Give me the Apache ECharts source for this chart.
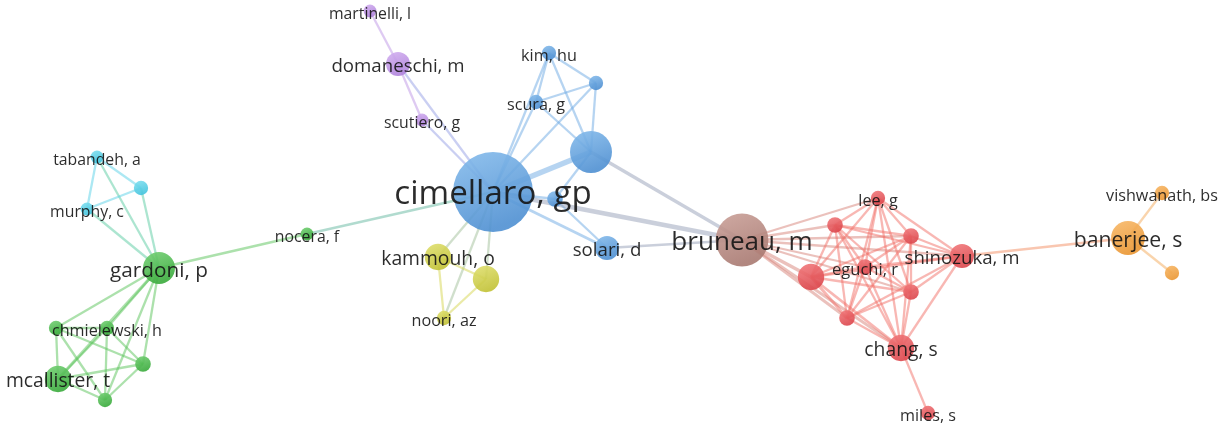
<!DOCTYPE html>
<html><head><meta charset="utf-8">
<script src="https://cdn.jsdelivr.net/npm/echarts@6/dist/echarts.min.js"></script>
<style>html,body{margin:0;padding:0;background:#fff}#c{width:1228px;height:429px}</style>
</head><body><div id="c"></div>
<script>
// Node data (map coordinates, weights, clusters)
const labels = ['cimellaro, gp','','kim, hu','','scura, g','','solari, d',
  'martinelli, l','domaneschi, m','scutiero, g',
  'kammouh, o','','noori, az',
  'tabandeh, a','','murphy, c',
  'gardoni, p','nocera, f','','chmielewski, h','','mcallister, t','',
  'bruneau, m','lee, g','','','shinozuka, m','eguchi, r','','','','chang, s','miles, s',
  'banerjee, s','vishwanath, bs',''];
const mapX = [493,591,549,596,536,555,607, 370,398,422, 438,486,444, 97,141,87, 159,307,56,107,143,58,105,
  742,878,835,911,962,865,811,911,847,901,928, 1128,1162,1172];
const mapY = [192,152,53,83,102,199,248, 11,64,120, 257,279,318, 157,188,209, 268,234,328,328,364,379,400,
  240,198,225,236,256,267,277,292,318,348,413, 238,193,273];
const weights = [156,43,5,5,5,6,14, 4,14,4, 17,17,5, 4,5,4, 25,4,5,5,6,17,5,
  68,5,6,6,14,6,17,6,6,17,5, 28,5,5];
const clusters = ['blue','blue','blue','blue','blue','blue','blue',
  'purple','purple','purple','yellow','yellow','yellow','cyan','cyan','cyan',
  'green','green','green','green','green','green','green',
  'brown','red','red','red','red','red','red','red','red','red','red',
  'orange','orange','orange'];
// Links: [source, target, strength]
const links = [
  [0,1,4],[0,2,1],[0,3,1],[0,4,1],[0,5,1],[0,6,1.5],[1,2,1],[1,3,1],[1,4,1],[1,5,1],[2,3,1],[2,4,1],[3,4,1],[5,6,1],
  [0,23,3],[1,23,2],[6,23,1],
  [0,8,1],[0,9,1],[7,8,1],[8,9,1],
  [0,10,1],[0,11,1],[0,12,1],[10,11,1],[10,12,1],[11,12,1],
  [0,17,1.2],[16,17,1.2],
  [16,13,1],[16,14,1],[16,15,1],[13,14,1],[13,15,1],[14,15,1],
  [16,18,1],[16,19,1],[16,20,1],[16,21,1.5],[16,22,1],
  [18,19,1],[18,20,1],[18,21,1],[18,22,1],[19,20,1],[19,21,1],[19,22,1],[20,21,1],[20,22,1],[21,22,1],
  [23,24,1],[23,25,1],[23,26,1],[23,27,1],[23,28,1],[23,29,2],[23,30,1],[23,31,1.5],[23,32,1.5],
  [24,25,1],[24,26,1],[24,27,1],[24,28,1],[24,29,1],[24,30,1],[24,31,1],[24,32,1],
  [25,26,1],[25,27,1],[25,28,1],[25,29,1],[25,30,1],[25,31,1],[25,32,1],
  [26,27,1],[26,28,1],[26,29,1],[26,30,1],[26,31,1],[26,32,1],
  [27,28,1],[27,29,1],[27,30,1],[27,31,1],[27,32,1],
  [28,29,1],[28,30,1],[28,31,1],[28,32,1],
  [29,30,1],[29,31,1.5],[29,32,1.5],
  [30,31,1],[30,32,1],[31,32,1],
  [32,33,1],[27,34,1],[34,35,1],[34,36,1]
];

const palette = {
  blue:['#86bcec','#4f90d2'], purple:['#d3b0f0','#b083dc'], yellow:['#e0e070','#c2c236'],
  cyan:['#80e0f0','#44c4de'], green:['#74d074','#3aab3c'], brown:['#caa098','#a97a72'],
  red:['#f27a7c','#dc474d'], orange:['#f8b868','#ea9632']
};
const base = {
  blue:[110,170,228], purple:[190,150,230], yellow:[214,214,80], cyan:[90,210,232],
  green:[90,195,90], brown:[190,150,140], red:[242,112,104], orange:[244,170,90]
};
function radius(w){ return 3.2*Math.sqrt(w); }
function fontSize(w){ return 12.5 + 1.65*Math.sqrt(w); }
function mix(a,b,al){
  const c=base[a], d=base[b];
  return 'rgba('+[0,1,2].map(i=>Math.round((c[i]+d[i])/2)).join(',')+','+al+')';
}

const nodes = labels.map((lab,i)=>{
  const r = radius(weights[i]);
  const p = palette[clusters[i]];
  return {
    name: 'n'+i,
    value: [mapX[i], mapY[i]],
    symbolSize: 2*r,
    itemStyle: { color: new echarts.graphic.LinearGradient(0,0,0.4,1,[{offset:0,color:p[0]},{offset:1,color:p[1]}]), opacity:0.9 },
    label: { show: lab!=='', formatter: lab, fontSize: fontSize(weights[i]) }
  };
});
const edges = links.map(([s,t,w])=>({
  source: s, target: t,
  lineStyle: { width: 1.2 + 1.1*w, color: mix(clusters[s], clusters[t], 0.5), opacity: 1 }
}));

const chart = echarts.init(document.getElementById('c'));
chart.setOption({
  backgroundColor:'#fff',
  animation:false,
  grid:{left:0,right:0,top:0,bottom:0},
  xAxis:{type:'value',min:0,max:1228,show:false},
  yAxis:{type:'value',min:0,max:429,inverse:true,show:false},
  series:[{
    type:'graph', coordinateSystem:'cartesian2d', layout:'none',
    data: nodes, links: edges, edgeSymbol:['none','none'],
    label:{ position:'inside', color:'#141414', fontFamily:'"Open Sans", sans-serif', offset:[0,3] },
    lineStyle:{ curveness:0 },
    emphasis:{disabled:true}
  }]
});
</script></body></html>
